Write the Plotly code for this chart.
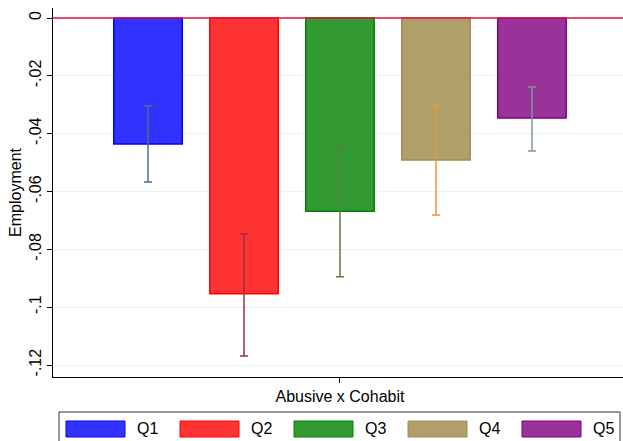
import plotly.graph_objects as go

# ---- data ----
categories = ["Abusive x Cohabit"]
groups = ["Q1", "Q2", "Q3", "Q4", "Q5"]
coef = [-0.0436, -0.0954, -0.0668, -0.0491, -0.0346]
ci_upper = [-0.0304, -0.0747, -0.0442, -0.0301, -0.0239]
ci_lower = [-0.0567, -0.1169, -0.0895, -0.0681, -0.0460]
ytick_vals = [0, -0.02, -0.04, -0.06, -0.08, -0.10, -0.12]
ytick_text = ["0", "-.02", "-.04", "-.06", "-.08", "-.1", "-.12"]

# ---- styles ----
fills = ["#3333ff", "#ff3333", "#339933", "#b09f6b", "#993399"]
edges = ["#0000ff", "#ff0000", "#008000", "#a08c55", "#800080"]
errcols = ["#4a6f94", "#9a3048", "#5f7d42", "#e8983a", "#7f9a94"]

W, H = 623, 441
ML, MR, MT, MB = 53, 0, 8, 64
PW, PH = W - ML - MR, H - MT - MB
FONT = "Liberation Sans, Arial, sans-serif"

fig = go.Figure()
for i, g in enumerate(groups):
    fig.add_trace(go.Bar(
        x=categories, y=[coef[i]], name=g,
        marker=dict(color=fills[i], line=dict(color=edges[i], width=1.5)),
        error_y=dict(type="data", symmetric=False,
                     array=[ci_upper[i] - coef[i]],
                     arrayminus=[coef[i] - ci_lower[i]],
                     color=errcols[i], thickness=1.5, width=4),
        showlegend=False,
    ))

def px_x(p):
    return (p - ML) / PW

def px_y(p):
    return (H - MB - p) / PH

shapes = [
    dict(type="line", xref="paper", yref="y", x0=0, x1=1, y0=0, y1=0,
         line=dict(color="#e0103c", width=1.6), layer="above"),
    dict(type="rect", xref="paper", yref="paper",
         x0=px_x(59), x1=px_x(620), y0=px_y(448), y1=px_y(412),
         line=dict(color="#333333", width=1), fillcolor="rgba(0,0,0,0)"),
]
annotations = []
for i, g in enumerate(groups):
    sx = 66 + 114 * i
    shapes.append(dict(type="rect", xref="paper", yref="paper",
                       x0=px_x(sx), x1=px_x(sx + 59), y0=px_y(437), y1=px_y(421),
                       line=dict(color=edges[i], width=1), fillcolor=fills[i]))
    annotations.append(dict(xref="paper", yref="paper", x=px_x(sx + 69), y=px_y(429),
                            text=g, showarrow=False, xanchor="left", yanchor="middle",
                            font=dict(size=16, color="#000000", family=FONT)))

ytop = (18 - MT) / 2891.7
ybot = -(H - MB - 18) / 2891.7

fig.update_layout(
    width=W, height=H,
    margin=dict(l=ML, r=MR, t=MT, b=MB, pad=0),
    paper_bgcolor="white", plot_bgcolor="white",
    barmode="group", bargap=0.158, bargroupgap=0.287,
    font=dict(family=FONT, size=16, color="#000000"),
    shapes=shapes, annotations=annotations,
    xaxis=dict(range=[-0.5035, 0.4965], showline=True, linecolor="#000000", linewidth=1,
               ticks="outside", ticklen=5, tickcolor="#000000", showgrid=False,
               tickfont=dict(size=16), zeroline=False),
    yaxis=dict(range=[ybot, ytop], tickvals=ytick_vals, ticktext=ytick_text,
               tickangle=-90, showline=True, linecolor="#000000", linewidth=1,
               ticks="outside", ticklen=5, tickcolor="#000000",
               showgrid=True, gridcolor="#e8f0f2", gridwidth=1, zeroline=False,
               tickfont=dict(size=16),
               title=dict(text="Employment", font=dict(size=16), standoff=0)),
)

fig.write_html("out.html", config={"displayModeBar": False},
               post_script="document.body.style.margin='0';document.body.style.overflow='hidden';")
